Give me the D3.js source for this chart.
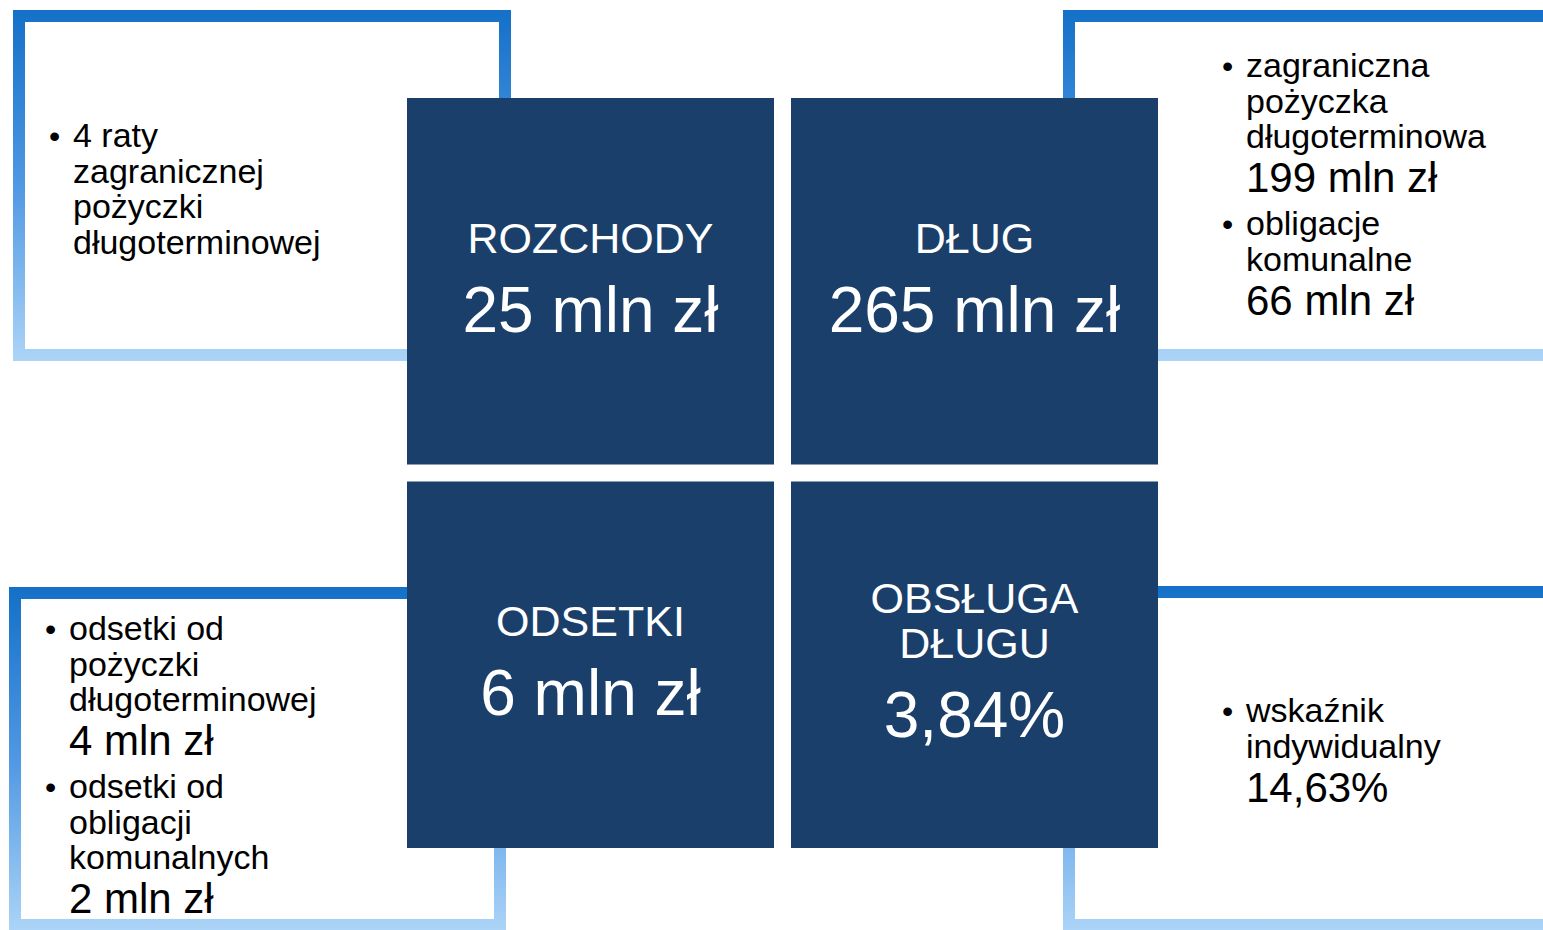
<!DOCTYPE html>
<html>
<head>
<meta charset="utf-8">
<script src="https://cdn.jsdelivr.net/npm/d3@7"></script>
<style>
  body { margin: 0; background: #fff; }
  text { font-family: "Liberation Sans", Arial, sans-serif; }
</style>
</head>
<body>
<svg width="1543" height="930"></svg>
<script>
// tiles in reading order: top-left, top-right, bottom-left, bottom-right
var tileTitles = [["ROZCHODY"], ["DŁUG"], ["ODSETKI"], ["OBSŁUGA", "DŁUGU"]];
var tileValues = ["25 mln zł", "265 mln zł", "6 mln zł", "3,84%"];

// side notes, one list of bullets per frame
var notesTopLeft = [
    { lines: ["4 raty", "zagranicznej", "pożyczki", "długoterminowej"], value: null }
];
var notesTopRight = [
    { lines: ["zagraniczna", "pożyczka", "długoterminowa"], value: "199 mln zł" },
    { lines: ["obligacje", "komunalne"], value: "66 mln zł" }
];
var notesBottomLeft = [
    { lines: ["odsetki od", "pożyczki", "długoterminowej"], value: "4 mln zł" },
    { lines: ["odsetki od", "obligacji", "komunalnych"], value: "2 mln zł" }
];
var notesBottomRight = [
    { lines: ["wskaźnik", "indywidualny"], value: "14,63%" }
];

var svg = d3.select("svg"),
    width = +svg.attr("width"),
    height = +svg.attr("height");

var defs = svg.append("defs");

// frames: outer box of each gradient border
var frames = [
    { x0: 13, y0: 10, x1: 511, y1: 361 },
    { x0: 1063, y0: 10, x1: 1570, y1: 361 },
    { x0: 9, y0: 587, x1: 506, y1: 931 },
    { x0: 1063, y0: 586, x1: 1570, y1: 931 }
];
var bw = 12;

frames.forEach(function(f, i) {
    var g = defs.append("linearGradient")
        .attr("id", "fg" + i)
        .attr("gradientUnits", "userSpaceOnUse")
        .attr("x1", 0).attr("x2", 0)
        .attr("y1", f.y0).attr("y2", f.y1);
    g.append("stop").attr("offset", "0%").attr("stop-color", "#1470c8");
    g.append("stop").attr("offset", "50%").attr("stop-color", "#4f98e3");
    g.append("stop").attr("offset", "100%").attr("stop-color", "#acd4f7");
});

svg.append("g").selectAll("rect")
    .data(frames)
    .enter().append("rect")
    .attr("x", function(d) { return d.x0 + bw / 2; })
    .attr("y", function(d) { return d.y0 + bw / 2; })
    .attr("width", function(d) { return d.x1 - d.x0 - bw; })
    .attr("height", function(d) { return d.y1 - d.y0 - bw; })
    .attr("fill", "none")
    .attr("stroke", function(d, i) { return "url(#fg" + i + ")"; })
    .attr("stroke-width", bw);

// 2x2 grid of dark tiles, 17px gap
var col = d3.scaleBand().domain([0, 1]).range([407, 1158]).paddingInner(0.0443);
var row = d3.scaleBand().domain([0, 1]).range([98, 848]).paddingInner(0.0443);

var tiles = tileValues.map(function(v, i) {
    return { title: tileTitles[i], value: v, c: i % 2, r: Math.floor(i / 2) };
});

var tile = svg.append("g").selectAll(".tile")
    .data(tiles)
    .enter().append("g")
    .attr("class", "tile")
    .attr("transform", function(d) { return "translate(" + col(d.c) + "," + row(d.r) + ")"; });

tile.append("rect")
    .attr("width", col.bandwidth())
    .attr("height", row.bandwidth())
    .attr("fill", "#1a3f6b");

var cx = col.bandwidth() / 2;

tile.each(function(d) {
    var g = d3.select(this);
    var n = d.title.length;
    // title lines are 45px apart; value baseline 79px below the last title line
    var firstBase = 155 - (n - 1) * 23;
    d.title.forEach(function(t, k) {
        g.append("text")
            .attr("x", cx)
            .attr("y", firstBase + k * 45)
            .attr("text-anchor", "middle")
            .attr("fill", "#fff")
            .style("font-size", "43px")
            .text(t);
    });
    g.append("text")
        .attr("x", cx)
        .attr("y", firstBase + (n - 1) * 45 + 79)
        .attr("text-anchor", "middle")
        .attr("fill", "#fff")
        .style("font-size", "64px")
        .text(d.value);
});

// bullet lists beside the tiles
function drawNotes(notes, x, y0) {
    var g = svg.append("g");
    var y = y0;
    notes.forEach(function(item, i) {
        if (i > 0) y += 43;
        g.append("text")
            .attr("x", x - 24)
            .attr("y", y)
            .attr("fill", "#000")
            .style("font-size", "32px")
            .text("•");
        item.lines.forEach(function(l, k) {
            if (k > 0) y += 35.5;
            g.append("text")
                .attr("x", x)
                .attr("y", y)
                .attr("fill", "#000")
                .style("font-size", "34px")
                .text(l);
        });
        if (item.value) {
            y += 44;
            g.append("text")
                .attr("x", x)
                .attr("y", y)
                .attr("fill", "#000")
                .style("font-size", "42px")
                .text(item.value);
        }
    });
}

drawNotes(notesTopLeft, 73, 147);
drawNotes(notesTopRight, 1246, 77);
drawNotes(notesBottomLeft, 69, 640);
drawNotes(notesBottomRight, 1246, 722);
</script>
</body>
</html>
